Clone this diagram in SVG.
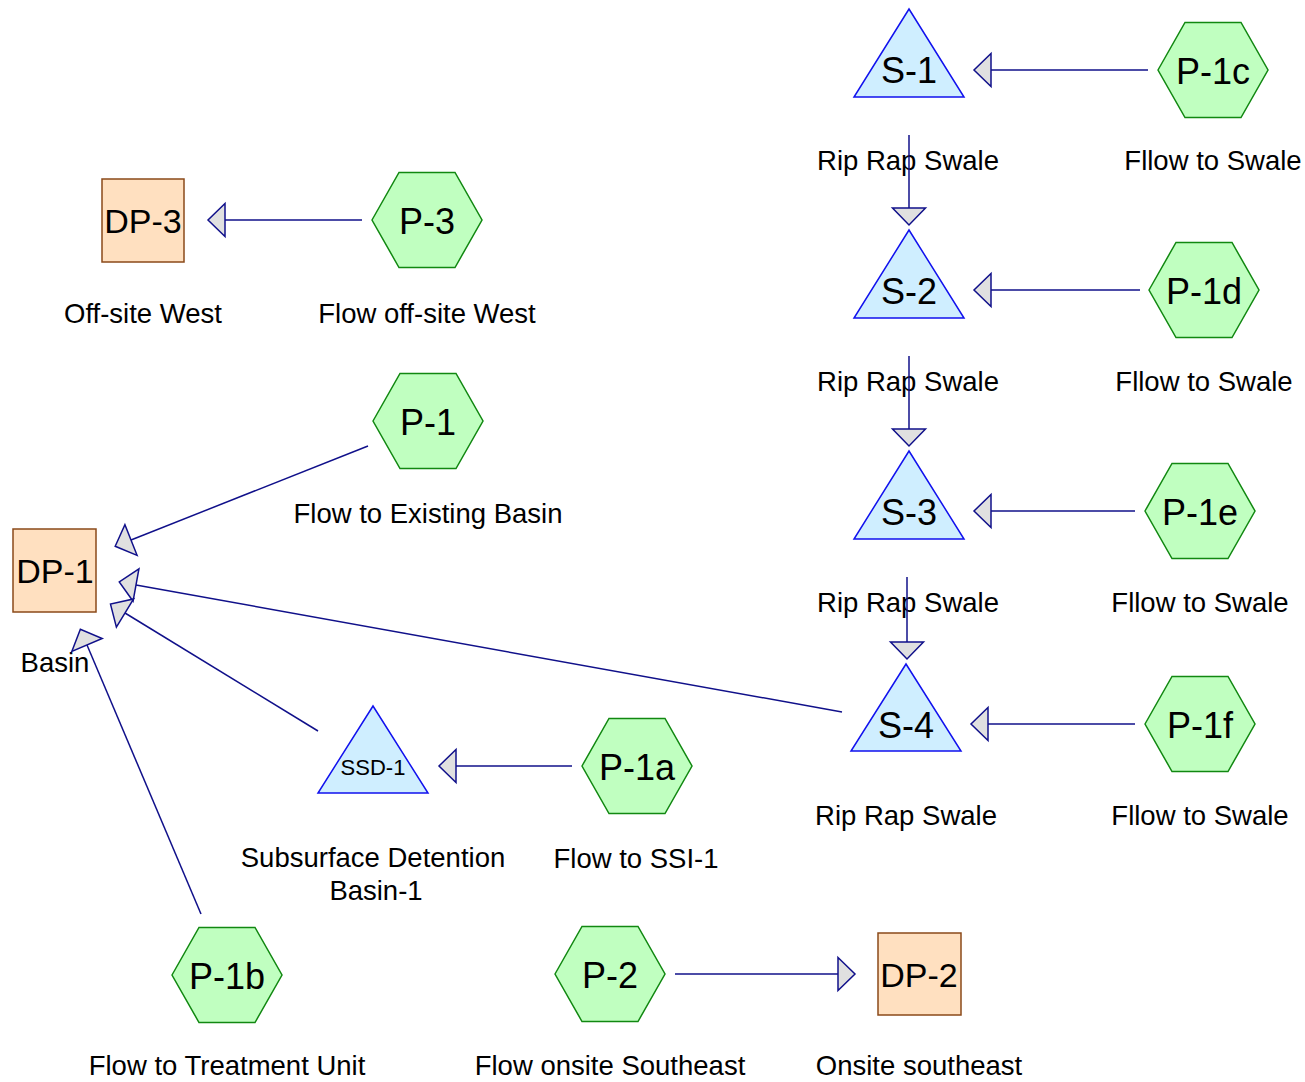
<svg xmlns="http://www.w3.org/2000/svg" width="1305" height="1082" viewBox="0 0 1305 1082">
<style>
  text { font-family: "Liberation Sans", Arial, sans-serif; fill: #000; text-anchor: middle; }
  .lbl { font-size: 27.5px; }
  .nt { font-size: 36px; }
  .dt { font-size: 34px; }
  .st { font-size: 22px; }
  .hex { fill: #c0ffc0; stroke: #118811; stroke-width: 1.5; }
  .tri { fill: #cfeeff; stroke: #1111ee; stroke-width: 1.5; }
  .sq { fill: #ffe0c0; stroke: #8b4a1a; stroke-width: 1.5; }
  .cn { stroke: #10108a; stroke-width: 1.5; fill: none; marker-end: url(#arr); }
</style>
<defs>
  <marker id="arr" markerUnits="userSpaceOnUse" viewBox="-2 -19 22 38" markerWidth="22" markerHeight="38" refX="0" refY="0" orient="auto">
    <path d="M0,-16.5 L17,0 L0,16.5 Z" fill="#e0e0e0" stroke="#10108a" stroke-width="1.5" stroke-linejoin="miter"/>
  </marker>
</defs>
<rect width="1305" height="1082" fill="#fff"/>

<g id="S-1"><polygon class="tri" points="909,9 964,97 854,97"/><text class="nt" x="909" y="83">S-1</text><text class="lbl" x="908" y="170">Rip Rap Swale</text></g>
<g id="S-2"><polygon class="tri" points="909,230 964,318 854,318"/><text class="nt" x="909" y="304">S-2</text><text class="lbl" x="908" y="391">Rip Rap Swale</text></g>
<g id="S-3"><polygon class="tri" points="909,451 964,539 854,539"/><text class="nt" x="909" y="525">S-3</text><text class="lbl" x="908" y="612">Rip Rap Swale</text></g>
<g id="S-4"><polygon class="tri" points="906,664 961,751 851,751"/><text class="nt" x="906" y="738">S-4</text><text class="lbl" x="906" y="825">Rip Rap Swale</text></g>
<g id="SSD-1"><polygon class="tri" points="373,706 428,793 318,793"/><text class="st" x="373" y="775">SSD-1</text><text class="lbl" x="373" y="867">Subsurface Detention</text><text class="lbl" x="376" y="900">Basin-1</text></g>

<g id="P-1c"><polygon class="hex" points="1158,70 1185,22.5 1241,22.5 1268,70 1241,117.5 1185,117.5"/><text class="nt" x="1213" y="84">P-1c</text><text class="lbl" x="1213" y="170">Fllow to Swale</text></g>
<g id="P-1d"><polygon class="hex" points="1149,290 1176,242.5 1232,242.5 1259,290 1232,337.5 1176,337.5"/><text class="nt" x="1204" y="304">P-1d</text><text class="lbl" x="1204" y="391">Fllow to Swale</text></g>
<g id="P-1e"><polygon class="hex" points="1145,511 1172,463.5 1228,463.5 1255,511 1228,558.5 1172,558.5"/><text class="nt" x="1200" y="525">P-1e</text><text class="lbl" x="1200" y="612">Fllow to Swale</text></g>
<g id="P-1f"><polygon class="hex" points="1145,724 1172,676.5 1228,676.5 1255,724 1228,771.5 1172,771.5"/><text class="nt" x="1200" y="738">P-1f</text><text class="lbl" x="1200" y="825">Fllow to Swale</text></g>
<g id="P-3"><polygon class="hex" points="372,220 399,172.5 455,172.5 482,220 455,267.5 399,267.5"/><text class="nt" x="427" y="234">P-3</text><text class="lbl" x="427" y="323">Flow off-site West</text></g>
<g id="P-1"><polygon class="hex" points="373,421 400,373.5 456,373.5 483,421 456,468.5 400,468.5"/><text class="nt" x="428" y="435">P-1</text><text class="lbl" x="428" y="523">Flow to Existing Basin</text></g>
<g id="P-1a"><polygon class="hex" points="582,766 609,718.5 665,718.5 692,766 665,813.5 609,813.5"/><text class="nt" x="637" y="780">P-1a</text><text class="lbl" x="636" y="868">Flow to SSI-1</text></g>
<g id="P-1b"><polygon class="hex" points="172,975 199,927.5 255,927.5 282,975 255,1022.5 199,1022.5"/><text class="nt" x="227" y="989">P-1b</text><text class="lbl" x="227" y="1075">Flow to Treatment Unit</text></g>
<g id="P-2"><polygon class="hex" points="555,974 582,926.5 638,926.5 665,974 638,1021.5 582,1021.5"/><text class="nt" x="610" y="988">P-2</text><text class="lbl" x="610" y="1075">Flow onsite Southeast</text></g>

<g id="DP-3"><rect class="sq" x="102" y="179" width="82" height="83"/><text class="dt" x="143" y="233">DP-3</text><text class="lbl" x="143" y="323">Off-site West</text></g>
<g id="DP-1"><rect class="sq" x="13" y="529" width="83" height="83"/><text class="dt" x="55" y="583">DP-1</text><text class="lbl" x="55" y="672">Basin</text></g>
<g id="DP-2"><rect class="sq" x="878" y="933" width="83" height="82"/><text class="dt" x="919" y="987">DP-2</text><text class="lbl" x="919" y="1075">Onsite southeast</text></g>

<g id="connectors">
  <line class="cn" x1="1148" y1="70" x2="991" y2="70"/>
  <line class="cn" x1="909" y1="135" x2="909" y2="208"/>
  <line class="cn" x1="1140" y1="290" x2="991" y2="290"/>
  <line class="cn" x1="909" y1="356" x2="909" y2="429"/>
  <line class="cn" x1="1135" y1="511" x2="991" y2="511"/>
  <line class="cn" x1="907" y1="577" x2="907" y2="642"/>
  <line class="cn" x1="1135" y1="724" x2="988" y2="724"/>
  <line class="cn" x1="572" y1="766" x2="456" y2="766"/>
  <line class="cn" x1="362" y1="220" x2="225" y2="220"/>
  <line class="cn" x1="675" y1="974" x2="838" y2="974"/>
  <line class="cn" x1="368" y1="446" x2="131" y2="540"/>
  <line class="cn" x1="842" y1="712" x2="136" y2="585"/>
  <line class="cn" x1="318" y1="731" x2="125" y2="613"/>
  <line class="cn" x1="201" y1="914" x2="87" y2="645"/>
</g>
</svg>
